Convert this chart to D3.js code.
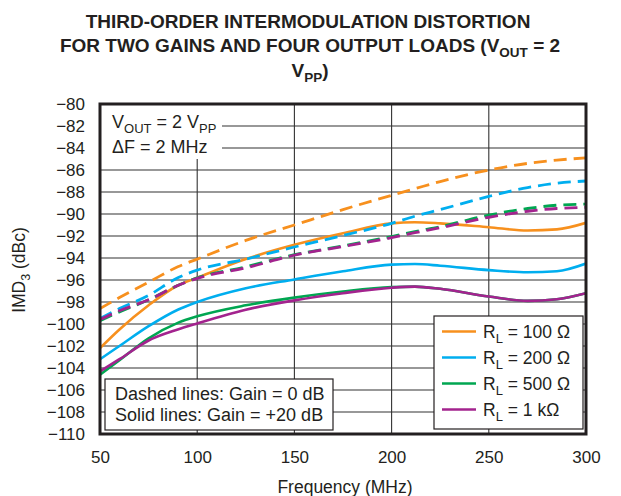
<!DOCTYPE html>
<html><head><meta charset="utf-8">
<script src="https://cdn.jsdelivr.net/npm/d3@7"></script>
<style>
body{margin:0;background:#fff;}
svg text{font-family:"Liberation Sans",Arial,Helvetica,sans-serif;fill:#231F20;}
</style></head>
<body><svg id="c" width="621" height="496"></svg>
<script>
const freqs = [50, 60, 75, 90, 100, 125, 150, 175, 200, 212, 225, 250, 270, 285, 300];
const loads = ["R_L = 100 Ω", "R_L = 200 Ω", "R_L = 500 Ω", "R_L = 1 kΩ"];
const colors = ["#F7901E", "#00AEEF", "#00A651", "#A3238E"];
// Gain = 0 dB (dashed)
const dashed100 = [-98.6, -97.6, -96.2, -94.8, -94.1, -92.4, -91.0, -89.6, -88.3, -87.7, -87.05, -86.0, -85.4, -85.1, -84.9];
const dashed200 = [-99.5, -98.6, -97.4, -95.8, -95.1, -94.1, -93.0, -91.95, -90.85, -90.2, -89.6, -88.4, -87.6, -87.2, -87.0];
const dashed500 = [-99.7, -98.9, -97.8, -96.5, -95.8, -94.8, -93.7, -92.9, -92.05, -91.6, -91.15, -90.1, -89.5, -89.2, -89.1];
const dashed1k  = [-99.6, -98.8, -97.8, -96.5, -95.85, -94.9, -93.75, -92.95, -92.15, -91.7, -91.25, -90.3, -89.75, -89.5, -89.4];
// Gain = +20 dB (solid)
const solid100 = [-102.2, -100.5, -98.3, -96.5, -95.8, -94.1, -92.8, -91.75, -90.85, -90.75, -90.85, -91.2, -91.5, -91.4, -90.8];
const solid200 = [-103.2, -102.0, -100.2, -98.7, -98.0, -96.75, -95.95, -95.2, -94.6, -94.55, -94.7, -95.1, -95.3, -95.2, -94.5];
const solid500 = [-104.6, -103.3, -101.3, -99.9, -99.3, -98.3, -97.6, -97.05, -96.65, -96.6, -96.8, -97.5, -97.9, -97.75, -97.2];
const solid1k  = [-104.3, -103.2, -101.5, -100.5, -99.95, -98.7, -97.85, -97.2, -96.7, -96.6, -96.8, -97.5, -97.9, -97.75, -97.2];
const xTicks = [50, 100, 150, 200, 250, 300];
const yTicks = [-80, -82, -84, -86, -88, -90, -92, -94, -96, -98, -100, -102, -104, -106, -108, -110];

const dashedSeries = [dashed100, dashed200, dashed500, dashed1k];
const solidSeries = [solid100, solid200, solid500, solid1k];

const svg = d3.select("#c");
const L = 100, R = 586, T = 104, B = 434;
const x = d3.scaleLinear().domain([50, 300]).range([L, R]);
const y = d3.scaleLinear().domain([-110, -80]).range([B, T]);
const ink = "#231F20";

// title
const title = svg.append("g").attr("font-weight", "bold").attr("font-size", 19).attr("text-anchor", "middle");
title.append("text").attr("x", 308).attr("y", 28).text("THIRD-ORDER INTERMODULATION DISTORTION");
const t2 = title.append("text").attr("x", 310).attr("y", 52);
t2.append("tspan").text("FOR TWO GAINS AND FOUR OUTPUT LOADS (V");
t2.append("tspan").attr("font-size", 13.5).attr("dy", 4.5).text("OUT");
t2.append("tspan").attr("dy", -4.5).text(" = 2");
const t3 = title.append("text").attr("x", 310).attr("y", 77);
t3.append("tspan").text("V");
t3.append("tspan").attr("font-size", 13.5).attr("dy", 4.5).text("PP");
t3.append("tspan").attr("dy", -4.5).text(")");

// grid
const grid = svg.append("g").attr("stroke", "#333").attr("stroke-width", 1.1);
yTicks.forEach(v => grid.append("line").attr("x1", L).attr("x2", R).attr("y1", y(v)).attr("y2", y(v)));
xTicks.slice(1, -1).forEach(v => grid.append("line").attr("x1", x(v)).attr("x2", x(v)).attr("y1", T).attr("y2", B));

// annotation box (white, covers grid)
svg.append("rect").attr("x", L + 1).attr("y", T + 1).attr("width", 121).attr("height", 54).attr("fill", "#fff");
const a1 = svg.append("text").attr("x", 112).attr("y", 128).attr("font-size", 18);
a1.append("tspan").text("V");
a1.append("tspan").attr("font-size", 13).attr("dy", 4.5).text("OUT");
a1.append("tspan").attr("dy", -4.5).text(" = 2 V");
a1.append("tspan").attr("font-size", 13).attr("dy", 4.5).text("PP");
svg.append("text").attr("x", 112).attr("y", 153).attr("font-size", 18).text("ΔF = 2 MHz");

// axes
const yAxis = d3.axisLeft(y).tickValues(yTicks).tickSize(0).tickPadding(15).tickFormat(d => d3.format("d")(d).replace("-", "−"));
const gy = svg.append("g").attr("transform", `translate(${L},0)`).call(yAxis);
gy.select(".domain").remove();
gy.selectAll("text").attr("font-size", 17).attr("fill", ink).attr("font-family", "Liberation Sans, Arial, sans-serif");
const xAxis = d3.axisBottom(x).tickValues(xTicks).tickSize(0).tickPadding(17).tickFormat(d3.format("d"));
const gx = svg.append("g").attr("transform", `translate(0,${B})`).call(xAxis);
gx.select(".domain").remove();
gx.selectAll("text").attr("font-size", 17).attr("fill", ink).attr("font-family", "Liberation Sans, Arial, sans-serif");

svg.append("text").attr("x", 345).attr("y", 493).attr("text-anchor", "middle").attr("font-size", 17.5).text("Frequency (MHz)");
const yl = svg.append("text").attr("transform", "translate(25,270) rotate(-90)").attr("text-anchor", "middle").attr("font-size", 17.5);
yl.append("tspan").text("IMD");
yl.append("tspan").attr("font-size", 12.5).attr("dy", 4.5).text("3");
yl.append("tspan").attr("dy", -4.5).text(" (dBc)");

// clip
svg.append("clipPath").attr("id", "pc").append("rect").attr("x", L).attr("y", T).attr("width", R - L).attr("height", B - T);
const line = d3.line().x((d, i) => x(freqs[i])).y(d => y(d)).curve(d3.curveMonotoneX);
const plot = svg.append("g").attr("clip-path", "url(#pc)").attr("fill", "none");
solidSeries.forEach((s, i) => plot.append("path").attr("d", line(s)).attr("stroke", colors[i]).attr("stroke-width", 2.6));
dashedSeries.forEach((s, i) => plot.append("path").attr("d", line(s)).attr("stroke", colors[i]).attr("stroke-width", 2.8).attr("stroke-dasharray", "13,7"));

// gain legend
svg.append("rect").attr("x", 105).attr("y", 379).attr("width", 228).attr("height", 51).attr("fill", "#fff").attr("stroke", ink).attr("stroke-width", 1.2);
svg.append("text").attr("x", 115).attr("y", 400).attr("font-size", 18).text("Dashed lines: Gain = 0 dB");
svg.append("text").attr("x", 115).attr("y", 421).attr("font-size", 18).text("Solid lines: Gain = +20 dB");

// load legend
svg.append("rect").attr("x", 434).attr("y", 316).attr("width", 149).attr("height", 113).attr("fill", "#fff").attr("stroke", ink).attr("stroke-width", 1.2);
loads.forEach((lab, i) => {
  const yy = 331.5 + i * 26;
  svg.append("line").attr("x1", 442).attr("x2", 476).attr("y1", yy).attr("y2", yy).attr("stroke", colors[i]).attr("stroke-width", 2.6);
  const t = svg.append("text").attr("x", 483).attr("y", yy + 6.5).attr("font-size", 17.5);
  const parts = lab.split("_L");
  t.append("tspan").text(parts[0]);
  t.append("tspan").attr("font-size", 13).attr("dy", 5).text("L");
  t.append("tspan").attr("dy", -5).text(parts[1]);
});

// frame
svg.append("rect").attr("x", L).attr("y", T).attr("width", R - L).attr("height", B - T).attr("fill", "none").attr("stroke", ink).attr("stroke-width", 3);
</script></body></html>
